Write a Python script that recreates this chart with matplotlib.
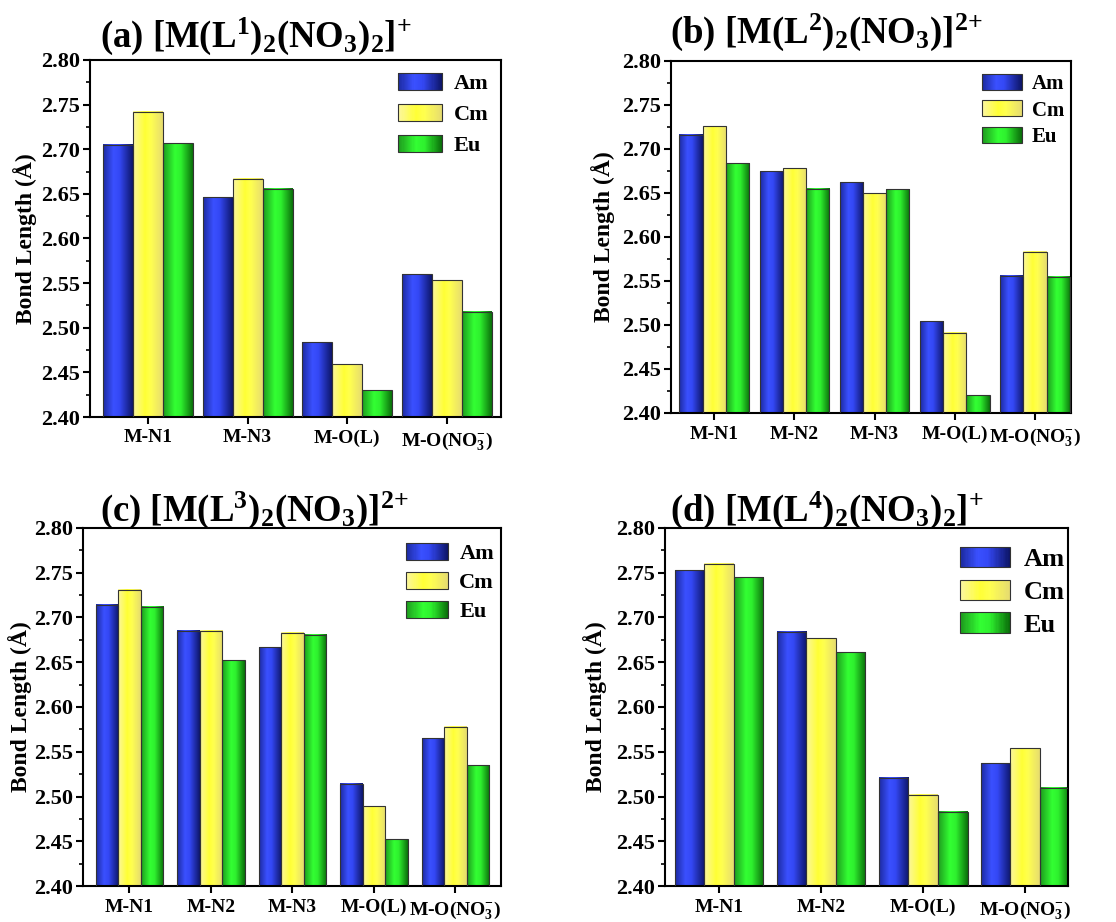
import numpy as np
import matplotlib
matplotlib.use("Agg")
import matplotlib.pyplot as plt
from matplotlib.colors import LinearSegmentedColormap
from matplotlib.legend_handler import HandlerBase
from matplotlib.patches import Rectangle
from matplotlib.ticker import MultipleLocator, FormatStrFormatter

plt.rcParams["font.family"] = "Liberation Serif"
plt.rcParams["font.weight"] = "bold"
plt.rcParams["axes.labelweight"] = "bold"
plt.rcParams["mathtext.fontset"] = "custom"
plt.rcParams["mathtext.rm"] = "Liberation Serif:bold"
plt.rcParams["mathtext.bf"] = "Liberation Serif:bold"
plt.rcParams["mathtext.it"] = "Liberation Serif:bold:italic"
plt.rcParams["mathtext.default"] = "rm"

# ---- data (bond lengths, Angstrom) ----
metals = ["Am", "Cm", "Eu"]
no3 = r"M-O(NO$_3^{-}$)"

titles = [r"(a) [M(L$^{1}$)$_{2}$(NO$_{3}$)$_{2}$]$^{+}$",
          r"(b) [M(L$^{2}$)$_{2}$(NO$_{3}$)]$^{2{+}}$",
          r"(c) [M(L$^{3}$)$_{2}$(NO$_{3}$)]$^{2{+}}$",
          r"(d) [M(L$^{4}$)$_{2}$(NO$_{3}$)$_{2}$]$^{+}$"]

cats_a = ["M-N1", "M-N3", "M-O(L)", no3]
am_a = [2.705, 2.646, 2.484, 2.560]
cm_a = [2.742, 2.667, 2.459, 2.553]
eu_a = [2.707, 2.656, 2.430, 2.518]

cats_b = ["M-N1", "M-N2", "M-N3", "M-O(L)", no3]
am_b = [2.716, 2.675, 2.662, 2.504, 2.556]
cm_b = [2.726, 2.678, 2.650, 2.491, 2.583]
eu_b = [2.684, 2.655, 2.654, 2.420, 2.555]

cats_c = ["M-N1", "M-N2", "M-N3", "M-O(L)", no3]
am_c = [2.714, 2.685, 2.667, 2.514, 2.565]
cm_c = [2.731, 2.685, 2.683, 2.489, 2.578]
eu_c = [2.712, 2.652, 2.681, 2.452, 2.535]

cats_d = ["M-N1", "M-N2", "M-O(L)", no3]
am_d = [2.753, 2.684, 2.521, 2.537]
cm_d = [2.760, 2.677, 2.502, 2.554]
eu_d = [2.745, 2.661, 2.483, 2.510]

# shaded "3D" fills, dark edges -> bright middle
cmaps = [
    LinearSegmentedColormap.from_list("am", [(0, "#1c2aa0"), (0.35, "#3a50ff"), (0.55, "#3448f5"), (1, "#0d1568")]),
    LinearSegmentedColormap.from_list("cm", [(0, "#fbf6a0"), (0.4, "#ffff35"), (0.6, "#ffff50"), (1, "#e6dc70")]),
    LinearSegmentedColormap.from_list("eu", [(0, "#1e9a1e"), (0.4, "#33ff33"), (0.6, "#2ef02e"), (1, "#0a6e0a")]),
]
GRAD = np.linspace(0, 1, 256).reshape(1, -1)


class GradHandler(HandlerBase):
    def __init__(self, cmap):
        super().__init__()
        self.cmap = cmap

    def create_artists(self, legend, orig_handle, xdescent, ydescent, width, height, fontsize, trans):
        n = 40
        x0, y0 = -xdescent, -ydescent
        arts = []
        for i in range(n):
            arts.append(Rectangle((x0 + i * width / n, y0), width / n * 1.05, height,
                                  facecolor=self.cmap(i / (n - 1)), lw=0, transform=trans))
        arts.append(Rectangle((x0, y0), width, height, fill=False, edgecolor="#333333",
                              lw=0.8, transform=trans))
        return arts


W, H = 1116, 922
fig = plt.figure(figsize=(W / 100, H / 100), dpi=100)

# layout in pixels: box (left, right, top, bottom), xlim, bar width, ylabel x,
# legend (x, y, fontsize, handlelength, handleheight, labelspacing), title (x, baseline y)
panels = [
    dict(cats=cats_a, vals=[am_a, cm_a, eu_a], box=(90, 501, 60, 417), xlim=(0.42, 4.54), bw=0.30,
         ylx=37, leg=(398, 73, 16, 2.0, 0.8, 0.43), tit=(100, 47)),
    dict(cats=cats_b, vals=[am_b, cm_b, eu_b], box=(671, 1071, 61, 413), xlim=(0.46, 5.45), bw=0.29,
         ylx=615, leg=(982, 74, 15, 1.9, 0.8, 0.3), tit=(670, 43)),
    dict(cats=cats_c, vals=[am_c, cm_c, eu_c], box=(83, 501, 528, 886), xlim=(0.43, 5.56), bw=0.275,
         ylx=32, leg=(406, 543, 16, 1.9, 0.8, 0.34), tit=(100, 521)),
    dict(cats=cats_d, vals=[am_d, cm_d, eu_d], box=(665, 1068, 528, 886), xlim=(0.47, 4.42), bw=0.29,
         ylx=607, leg=(960, 547, 19, 1.9, 0.8, 0.32), tit=(670, 521)),
]

YMIN, YMAX = 2.40, 2.80

for p, title in zip(panels, titles):
    l, r, t, b = p["box"]
    ax = fig.add_axes([l / W, 1 - b / H, (r - l) / W, (b - t) / H])
    x = np.arange(1, len(p["cats"]) + 1)
    bw = p["bw"]
    conts = []
    for k, (vals, cmap) in enumerate(zip(p["vals"], cmaps)):
        bars = ax.bar(x + (k - 1) * bw, vals, width=bw, facecolor="none",
                      edgecolor="#333333", linewidth=0.8, zorder=3, label=metals[k])
        for patch in bars.patches:
            x0 = patch.get_x()
            top = patch.get_y() + patch.get_height()
            ax.imshow(GRAD, cmap=cmap, aspect="auto", interpolation="bilinear",
                      extent=(x0, x0 + patch.get_width(), YMIN, top), zorder=2.5)
        conts.append(bars)

    ax.set_xlim(*p["xlim"])
    ax.set_ylim(YMIN, YMAX)
    ax.yaxis.set_major_locator(MultipleLocator(0.05))
    ax.yaxis.set_minor_locator(MultipleLocator(0.025))
    ax.yaxis.set_major_formatter(FormatStrFormatter("%.2f"))
    ax.set_xticks(x)
    ax.set_xticklabels(p["cats"], fontsize=14)
    ax.tick_params(axis="y", labelsize=16, pad=2)
    ax.tick_params(axis="x", pad=4)
    ax.tick_params(which="major", direction="out", length=5, width=1.5, top=False, right=False)
    ax.tick_params(which="minor", direction="out", length=3, width=1.2)
    ax.tick_params(axis="x", which="minor", bottom=False)
    for s in ax.spines.values():
        s.set_linewidth(1.5)

    ax.set_ylabel("Bond Length (Å)", fontsize=17, fontweight="bold")
    ax.yaxis.set_label_coords((p["ylx"] - l) / (r - l), 0.5)

    lx, ly, lfs, hl, hh, ls = p["leg"]
    ax.legend(handles=conts, labels=metals, loc="upper left",
              bbox_to_anchor=((lx - l) / (r - l), 1 - (ly - t) / (b - t)),
              frameon=False, borderpad=0, borderaxespad=0,
              handlelength=hl, handleheight=hh, labelspacing=ls, handletextpad=0.5,
              handler_map={c: GradHandler(cm) for c, cm in zip(conts, cmaps)},
              prop={"family": "Liberation Serif", "weight": "bold", "size": lfs})

    tx, ty = p["tit"]
    fig.text(tx / W, 1 - ty / H, title, fontsize=26.5, fontweight="bold", va="baseline", ha="left")

fig.savefig("out.png", dpi=100)
